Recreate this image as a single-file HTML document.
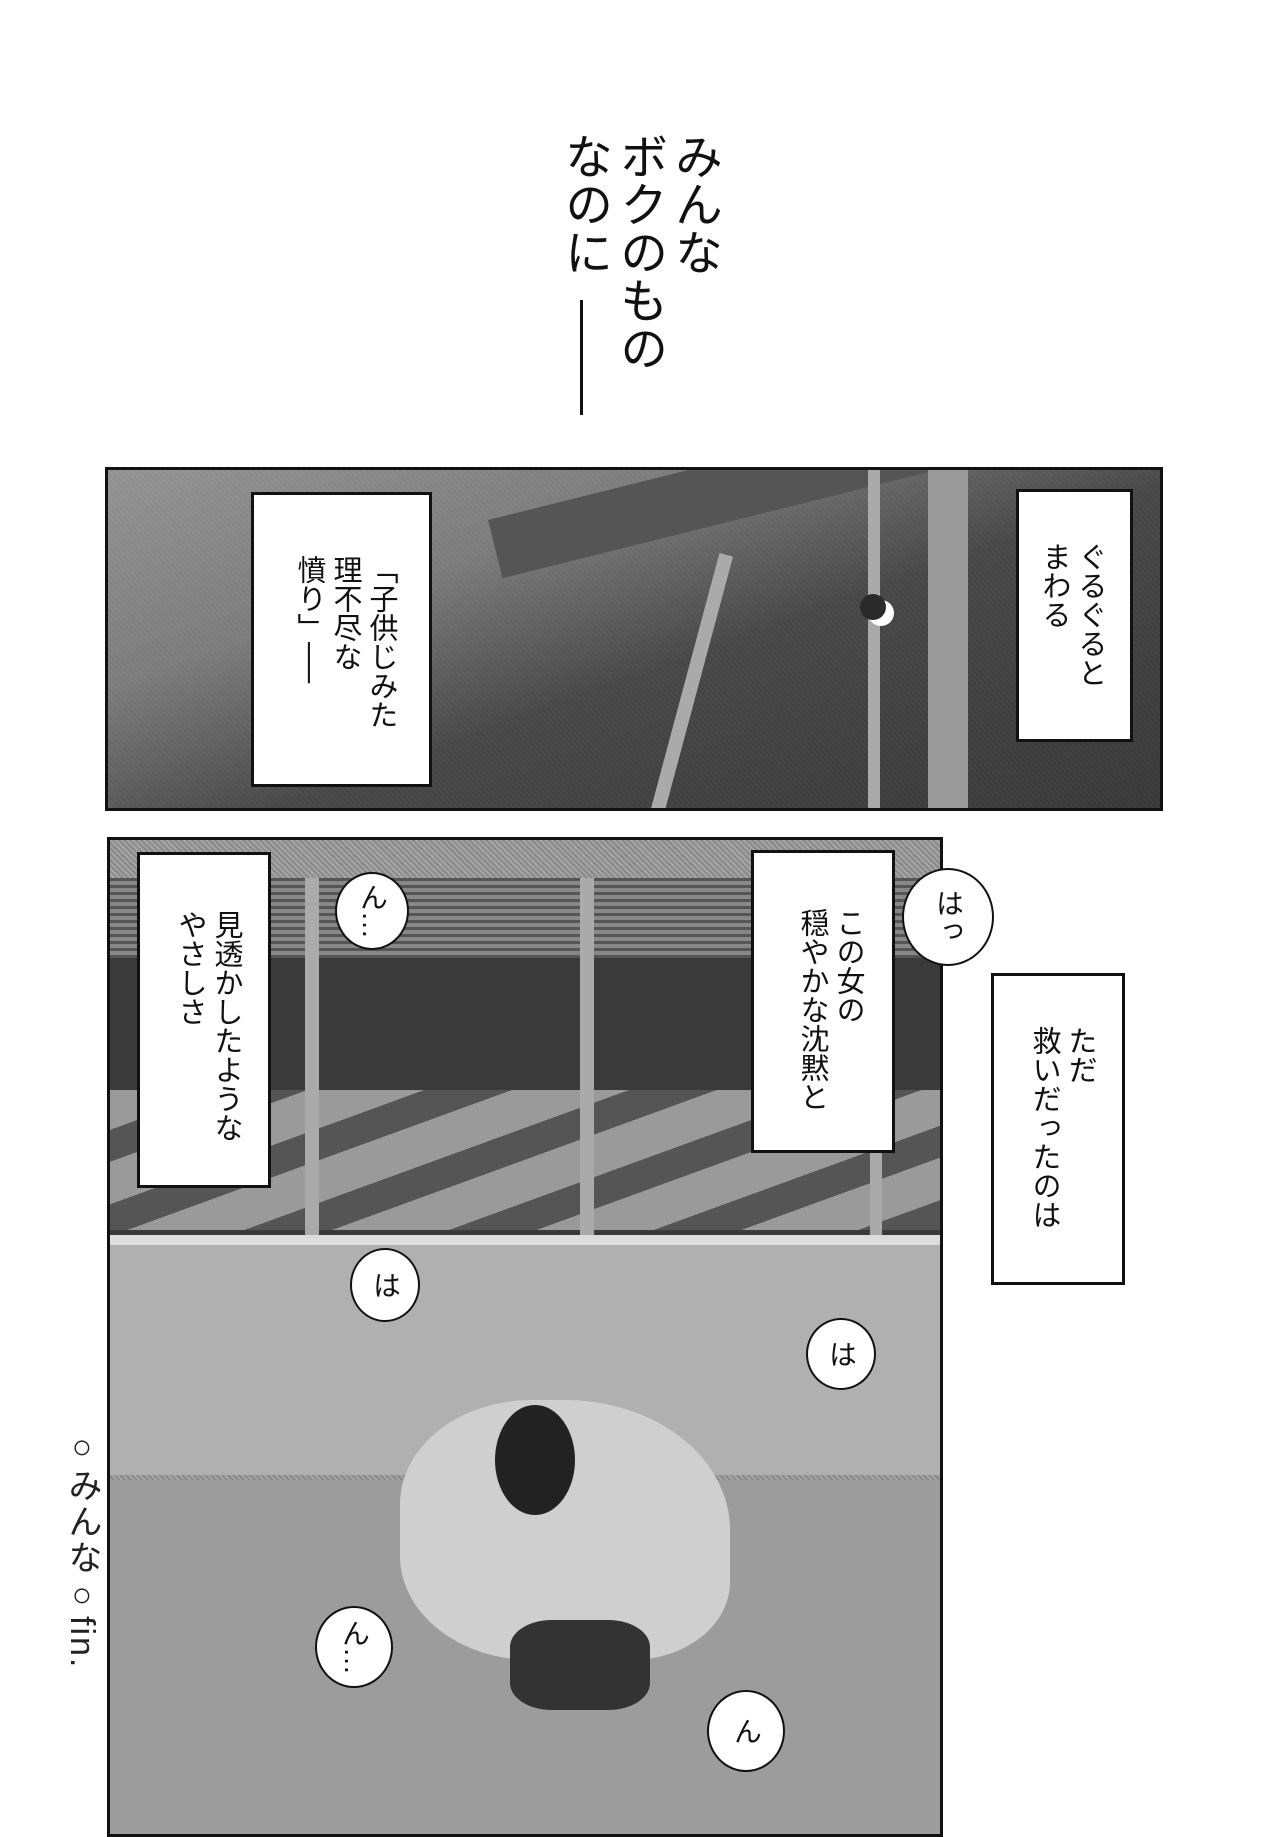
<!DOCTYPE html>
<html><head><meta charset="utf-8">
<style>
html,body{margin:0;padding:0;background:#fff;}
body{width:1280px;height:1830px;position:relative;overflow:hidden;font-family:"Liberation Sans","Noto Sans CJK JP",sans-serif;color:#111;}
.v{position:absolute;writing-mode:vertical-rl;white-space:nowrap;}
.title{font-size:48px;line-height:56px;top:132px;}
.panel{position:absolute;border:3px solid #111;box-sizing:border-box;overflow:hidden;}
.box{position:absolute;background:#fff;border:3px solid #111;box-sizing:border-box;}
.box .t{writing-mode:vertical-rl;font-size:29px;line-height:36px;position:absolute;top:50px;right:18px;white-space:nowrap;}
.bub{position:absolute;background:#fff;border:2px solid #111;border-radius:50%;box-sizing:border-box;display:flex;align-items:center;justify-content:center;font-size:28px;writing-mode:vertical-rl;}
</style></head><body>

<div class="v title" style="left:665px;">みんな</div>
<div class="v title" style="left:610px;">ボクのもの</div>
<div class="v title" style="left:555px;">なのに</div>
<div style="position:absolute;left:580px;top:300px;width:3px;height:115px;background:#111"></div>

<!-- panel 1 -->
<div class="panel" style="left:105px;top:467px;width:1058px;height:344px;background:repeating-linear-gradient(45deg,#6e6e6e 0 2px,#8a8a8a 2px 4px);">
  <div style="position:absolute;left:0;top:0;width:1060px;height:344px;background:linear-gradient(160deg,#9a9a9a 0%,#7d7d7d 30%,#3c3c3c 55%,#2a2a2a 100%);opacity:.8"></div>
  <div style="position:absolute;left:380px;top:50px;width:800px;height:60px;background:#555;transform:rotate(-14deg);transform-origin:left top;"></div>
  <div style="position:absolute;left:820px;top:0;width:40px;height:344px;background:#9a9a9a;"></div>
  <div style="position:absolute;left:575px;top:80px;width:14px;height:280px;background:#aaa;transform:rotate(15deg);"></div>
  <div style="position:absolute;left:760px;top:0;width:12px;height:344px;background:#aaa;"></div>
  <div style="position:absolute;left:760px;top:130px;width:26px;height:26px;border-radius:50%;background:#fff;"></div>
  <div style="position:absolute;left:752px;top:124px;width:26px;height:26px;border-radius:50%;background:#2a2a2a;"></div>
</div>
<div class="box" style="left:1016px;top:489px;width:117px;height:253px;"><div class="t" style="right:22px">ぐるぐると<br>まわる</div></div>
<div class="box" style="left:251px;top:492px;width:181px;height:295px;"><div class="t" style="right:30px;top:60px">「子供じみた<br>理不尽な<br>憤り」──</div></div>

<!-- panel 2 -->
<div class="panel" style="left:107px;top:837px;width:836px;height:1000px;background:repeating-linear-gradient(45deg,#8a8a8a 0 2px,#a4a4a4 2px 4px);">
  <div style="position:absolute;left:0;top:38px;width:836px;height:360px;background:#3a3a3a;"></div>
  <div style="position:absolute;left:0;top:38px;width:836px;height:80px;background:repeating-linear-gradient(0deg,#555 0 3px,#888 3px 7px);"></div>
  <div style="position:absolute;left:0;top:250px;width:836px;height:140px;background:repeating-linear-gradient(-20deg,#555 0 30px,#9a9a9a 30px 70px);"></div>
  <div style="position:absolute;left:195px;top:38px;width:14px;height:370px;background:#aaa;"></div>
  <div style="position:absolute;left:470px;top:38px;width:14px;height:380px;background:#aaa;"></div>
  <div style="position:absolute;left:760px;top:38px;width:12px;height:390px;background:#aaa;"></div>
  <div style="position:absolute;left:0;top:395px;width:836px;height:10px;background:#ddd;"></div>
  <div style="position:absolute;left:0;top:405px;width:836px;height:230px;background:#b0b0b0;"></div>
  <div style="position:absolute;left:0;top:640px;width:836px;height:360px;background:#9c9c9c;"></div>
  <div style="position:absolute;left:290px;top:560px;width:330px;height:260px;background:#cfcfcf;border-radius:40% 50% 30% 40%;"></div>
  <div style="position:absolute;left:385px;top:565px;width:80px;height:110px;background:#222;border-radius:50%;"></div>
  <div style="position:absolute;left:400px;top:780px;width:140px;height:90px;background:#333;border-radius:30%;"></div>
</div>
<div class="box" style="left:751px;top:850px;width:144px;height:303px;"><div class="t" style="right:26px;top:55px">この女の<br>穏やかな沈黙と</div></div>
<div class="box" style="left:137px;top:852px;width:134px;height:336px;"><div class="t" style="right:24px;top:55px">見透かしたような<br>やさしさ</div></div>
<div class="box" style="left:991px;top:973px;width:134px;height:312px;"><div class="t" style="right:24px;top:50px">ただ<br>救いだったのは</div></div>

<div class="bub" style="left:902px;top:868px;width:92px;height:98px;">はっ</div>
<div class="bub" style="left:335px;top:872px;width:74px;height:78px;">ん…</div>
<div class="bub" style="left:350px;top:1248px;width:70px;height:74px;">は</div>
<div class="bub" style="left:806px;top:1318px;width:70px;height:72px;">は</div>
<div class="bub" style="left:315px;top:1606px;width:78px;height:82px;">ん…</div>
<div class="bub" style="left:707px;top:1690px;width:78px;height:82px;">ん</div>

<div class="v" style="left:62px;top:1428px;font-size:34px;line-height:40px;color:#222;letter-spacing:2px;">○みんな○fin.</div>
</body></html>
